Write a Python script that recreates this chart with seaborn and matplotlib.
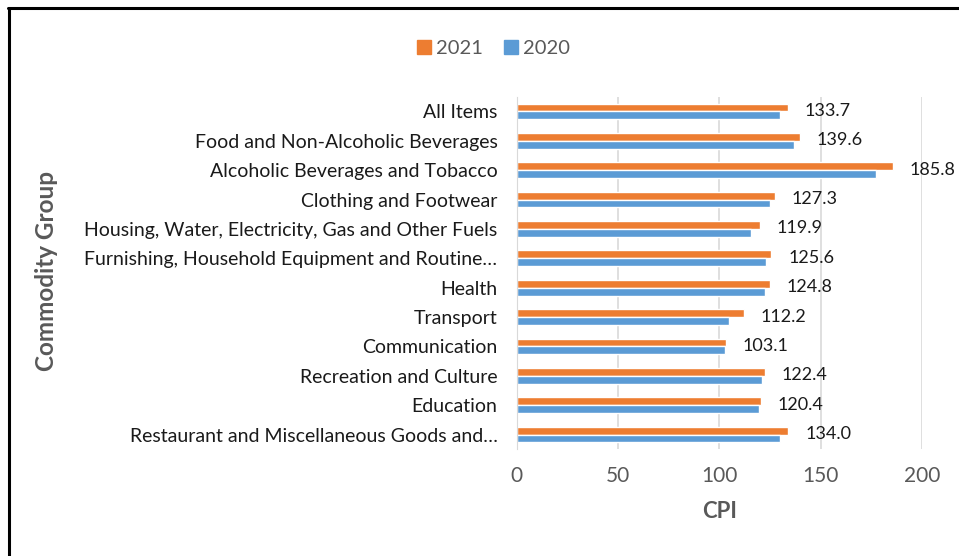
import pandas as pd
import matplotlib
matplotlib.use("Agg")
import matplotlib.pyplot as plt
import seaborn as sns
from matplotlib.lines import Line2D

# Data
categories = [
    "All Items",
    "Food and Non-Alcoholic Beverages",
    "Alcoholic Beverages and Tobacco",
    "Clothing and Footwear",
    "Housing, Water, Electricity, Gas and Other Fuels",
    "Furnishing, Household Equipment and Routine…",
    "Health",
    "Transport",
    "Communication",
    "Recreation and Culture",
    "Education",
    "Restaurant and Miscellaneous Goods and…",
]
cpi_2021 = [133.7, 139.6, 185.8, 127.3, 119.9, 125.6, 124.8, 112.2, 103.1, 122.4, 120.4, 134.0]
cpi_2020 = [130.0, 136.6, 177.4, 125.1, 115.8, 123.1, 122.3, 104.8, 102.8, 121.0, 119.3, 130.0]
years = ["2021", "2020"]
colors = {"2021": "#ED7D31", "2020": "#5B9BD5"}

df = pd.DataFrame({"Commodity": categories * 2,
                   "CPI": cpi_2021 + cpi_2020,
                   "Year": ["2021"] * len(categories) + ["2020"] * len(categories)})

sns.set_style("white")
plt.rcParams["font.family"] = ["Lato", "DejaVu Sans"]

fig = plt.figure(figsize=(9.59, 5.56), dpi=100)
ax = fig.add_axes([0.539, 0.192, 0.4225, 0.634])

sns.barplot(data=df, y="Commodity", x="CPI", hue="Year", hue_order=years,
            palette=colors, order=categories, width=0.54, orient="h",
            saturation=1, ax=ax, legend=False)

# labels on the 2021 bars only
labels = ax.bar_label(ax.containers[0], fmt="%.1f", padding=12, fontsize=13, color="#1a1a1a")
for t in labels:
    t.xyann = (12, -2.5)

ax.set_xlim(0, 200)
ax.set_xticks([0, 50, 100, 150, 200])
ax.grid(axis="x", color="#d9d9d9", linewidth=1.2)
ax.set_axisbelow(True)
for s in ["top", "right", "bottom"]:
    ax.spines[s].set_visible(False)
ax.spines["left"].set_color("#d9d9d9")
ax.tick_params(axis="x", length=0, pad=12, labelsize=15, labelcolor="#595959")
ax.tick_params(axis="y", length=0, pad=14, labelsize=14, labelcolor="#1a1a1a")
ax.set_xlabel("CPI", fontsize=16, fontweight="bold", color="#595959", labelpad=11)
ax.set_ylabel("")
fig.text(0.049, 0.512, "Commodity Group", rotation=90, ha="center", va="center",
         fontsize=17.5, fontweight="bold", color="#595959")

handles = [Line2D([], [], marker="s", linestyle="", markersize=9.5,
                  markerfacecolor=colors[y], markeredgecolor=colors[y]) for y in years]
fig.legend(handles, years, loc="center", bbox_to_anchor=(0.514, 0.913), ncol=2,
           frameon=False, fontsize=14.5, labelcolor="#595959",
           handlelength=0.8, handletextpad=0.2, columnspacing=1.0)

# partial black frame (left and top edges)
fig.add_artist(Line2D([0.0095, 0.0095], [0, 0.986], color="black", linewidth=2.2,
                      transform=fig.transFigure))
fig.add_artist(Line2D([0.0085, 1.0], [0.986, 0.986], color="black", linewidth=2.2,
                      transform=fig.transFigure))

fig.savefig("out.png", dpi=100, facecolor="white")
